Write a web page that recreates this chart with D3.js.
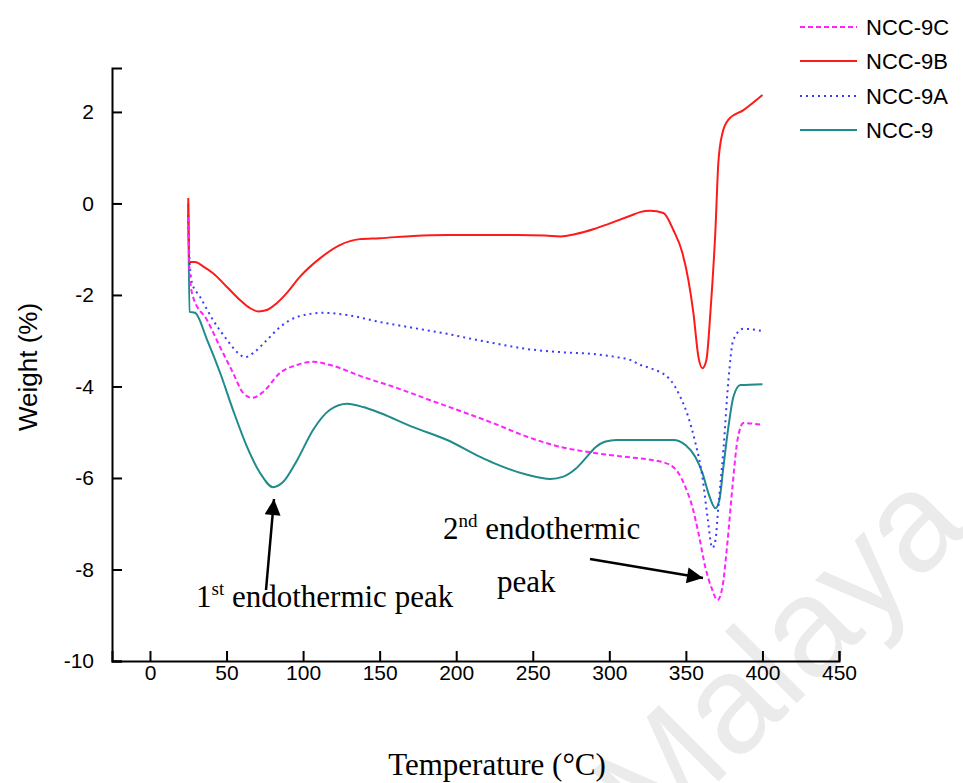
<!DOCTYPE html>
<html lang="en">
<head>
<meta charset="UTF-8">
<title>DSC curves</title>
<script src="https://d3js.org/d3.v7.min.js"></script>
<style>
    * { margin: 0; padding: 0; }
    body { background: #fff; }
    svg { display: block; }
    .tick text { font-family: "Liberation Sans", Arial, sans-serif; font-size: 21px; fill: #000; }
    .serif { font-family: "Liberation Serif", "Times New Roman", serif; fill: #000; }
</style>
</head>
<body>
<script>
    // [temperature °C, weight %]
    var ncc9C = [[25, -0.3], [25.8, -1.5], [28.1, -2.04], [37.3, -2.55], [45.8, -3.14], [54.2, -3.70], [60.8, -4.14],
        [66.7, -4.25], [73.9, -4.12], [85, -3.70], [96.1, -3.53], [106.5, -3.46], [117.6, -3.53], [139, -3.79],
        [161, -4.03], [183, -4.30], [204.6, -4.56], [224, -4.80], [246.4, -5.10], [268, -5.32], [289.5, -5.45],
        [313.7, -5.55], [326.8, -5.60], [339.9, -5.72], [345.1, -5.89], [349.7, -6.20], [354.2, -6.63], [358.2, -7.20],
        [362.7, -7.95], [367.3, -8.45], [370.6, -8.67], [373.9, -8.38], [377.1, -7.42], [380.4, -6.20], [383.7, -5.17],
        [387.6, -4.80], [400, -4.84]];
    var ncc9B = [[25, 0.12], [25.6, -1.28], [29.4, -1.28], [34.9, -1.38], [41.4, -1.53], [50.1, -1.82], [58.8, -2.11],
        [65.4, -2.29], [70.8, -2.36], [76.3, -2.33], [82.8, -2.18], [89.3, -1.96], [98, -1.60], [111, -1.20],
        [124, -0.91], [137, -0.78], [150, -0.76], [172, -0.71], [194, -0.69], [216, -0.69], [240, -0.69],
        [258, -0.70], [268, -0.72], [278, -0.67], [290, -0.56], [300, -0.44], [313.7, -0.27], [320, -0.19],
        [326.8, -0.16], [335.3, -0.21], [341.8, -0.58], [347.7, -1.08], [351.6, -1.67], [354.9, -2.39], [358.2, -3.36],
        [360.8, -3.60], [363.4, -3.42], [366, -2.39], [369.3, -0.58], [371.2, 0.89], [373.9, 1.54], [377.8, 1.83],
        [387.6, 2.04], [400, 2.37]];
    var ncc9A = [[25, -0.25], [25.8, -1.2], [27.5, -1.74], [32.7, -2.04], [41.2, -2.55], [50.3, -2.98], [56.9, -3.25],
        [62.1, -3.36], [67.3, -3.27], [76.5, -2.98], [85, -2.70], [96.1, -2.48], [113, -2.39], [129, -2.44],
        [150, -2.59], [172, -2.72], [194, -2.85], [216, -3.00], [224, -3.05], [246, -3.18], [268, -3.25],
        [289.5, -3.29], [305, -3.36], [313.7, -3.42], [320.3, -3.53], [326.8, -3.60], [339.9, -3.86], [346.4, -4.23],
        [351.6, -4.67], [356.2, -5.23], [360.8, -5.98], [364.1, -6.85], [367.3, -7.53], [369.3, -7.36], [371.2, -6.63],
        [374.5, -5.39], [377.8, -3.86], [381, -2.98], [387.6, -2.74], [400, -2.79]];
    var ncc9 = [[25, 0.0], [25.8, -2.37], [29.4, -2.39], [37.3, -2.98], [45.8, -3.70], [54.2, -4.51], [63.4, -5.32],
        [71.9, -5.89], [80.4, -6.20], [86.9, -6.09], [96.1, -5.61], [106.5, -4.95], [117.6, -4.51], [128.8, -4.38],
        [139.2, -4.45], [150.3, -4.58], [171.9, -4.89], [194.1, -5.17], [215.7, -5.54], [224.2, -5.67], [246.4, -5.93],
        [261.4, -6.02], [270, -5.97], [278, -5.80], [285, -5.55], [291, -5.33], [297, -5.21], [305, -5.17],
        [326.8, -5.17], [341.8, -5.17], [349.7, -5.28], [356.2, -5.54], [360.8, -5.89], [364.7, -6.33], [369.3, -6.66],
        [371.9, -6.48], [374.5, -5.76], [377.8, -4.88], [381, -4.23], [385.6, -3.97], [400, -3.95]];

    var seriesNames = ["NCC-9C", "NCC-9B", "NCC-9A", "NCC-9"];
    var xTicks = [0, 50, 100, 150, 200, 250, 300, 350, 400, 450];
    var yTicks = [-10, -8, -6, -4, -2, 0, 2];

    var series = [
        {name: seriesNames[0], data: ncc9C, color: "#ff22ff", dash: "5,3", width: 2},
        {name: seriesNames[1], data: ncc9B, color: "#ff1a1a", dash: null, width: 2},
        {name: seriesNames[2], data: ncc9A, color: "#3b3bff", dash: "2,4", width: 2},
        {name: seriesNames[3], data: ncc9, color: "#218a8a", dash: null, width: 2}
    ];

    var W = 963, H = 783;
    var svg = d3.select("body").append("svg").attr("width", W).attr("height", H);

    // watermark
    svg.append("text")
        .attr("transform", "translate(812,688) rotate(-45)")
        .attr("text-anchor", "middle")
        .style("font-family", "'Liberation Sans', Arial, sans-serif")
        .style("font-size", "140px")
        .style("fill", "#ebebeb")
        .text("Malaya");

    var x = d3.scaleLinear().domain([-24.8, 450]).range([112, 839]);
    var y = d3.scaleLinear().domain([-10, 2.96]).range([661, 68]);
    var fmt = function(d) { return String(d) };

    var xAxis = svg.append("g")
        .attr("transform", "translate(0," + y(-10) + ")")
        .call(d3.axisBottom(x).tickValues(xTicks).tickSize(-10).tickPadding(15).tickFormat(fmt));
    var yAxis = svg.append("g")
        .attr("transform", "translate(" + x(-24.8) + ",0)")
        .call(d3.axisLeft(y).tickValues(yTicks).tickSize(-10).tickPadding(16).tickFormat(fmt));
    [xAxis, yAxis].forEach(function(g) {
        g.select(".domain").attr("stroke", "#000").attr("stroke-width", 2);
        g.selectAll(".tick line").attr("stroke", "#000").attr("stroke-width", 2);
    });
    xAxis.selectAll(".tick text").attr("dy", "0.2em");
    yAxis.selectAll(".tick text").attr("dx", "-2");

    var line = d3.line()
        .x(function(d) { return x(d[0]) })
        .y(function(d) { return y(d[1]) })
        .curve(d3.curveMonotoneX);

    svg.selectAll(".curve")
        .data(series.slice().reverse())
        .enter()
        .append("path")
        .attr("class", "curve")
        .attr("d", function(d) { return line(d.data) })
        .attr("fill", "none")
        .attr("stroke", function(d) { return d.color })
        .attr("stroke-width", function(d) { return d.width })
        .attr("stroke-dasharray", function(d) { return d.dash });

    // legend
    var legend = svg.append("g");
    var legendY = [27, 61, 96, 130];
    series.forEach(function(s, i) {
        legend.append("line")
            .attr("x1", 800).attr("x2", 857)
            .attr("y1", legendY[i]).attr("y2", legendY[i])
            .attr("stroke", s.color).attr("stroke-width", s.width)
            .attr("stroke-dasharray", s.dash);
        legend.append("text")
            .attr("x", 866).attr("y", legendY[i])
            .attr("dy", "0.36em")
            .style("font-family", "'Liberation Sans', Arial, sans-serif")
            .style("font-size", "22px")
            .text(s.name);
    });

    // axis titles
    svg.append("text")
        .attr("transform", "translate(37,367) rotate(-90)")
        .attr("text-anchor", "middle")
        .style("font-family", "'Liberation Sans', Arial, sans-serif")
        .style("font-size", "26px")
        .text("Weight (%)");
    svg.append("text")
        .attr("class", "serif")
        .attr("x", 497).attr("y", 775)
        .attr("text-anchor", "middle")
        .style("font-size", "31px")
        .text("Temperature (°C)");

    // annotations
    var defs = svg.append("defs");
    defs.append("marker")
        .attr("id", "head")
        .attr("viewBox", "0 0 10 10")
        .attr("refX", 10).attr("refY", 5)
        .attr("markerWidth", 22).attr("markerHeight", 16)
        .attr("markerUnits", "userSpaceOnUse")
        .attr("orient", "auto")
        .append("path")
        .attr("d", "M0,0L10,5L0,10z")
        .attr("fill", "#000");

    svg.append("line")
        .attr("x1", 266).attr("y1", 590).attr("x2", 274).attr("y2", 499)
        .attr("stroke", "#000").attr("stroke-width", 2.5)
        .attr("marker-end", "url(#head)");
    svg.append("line")
        .attr("x1", 590).attr("y1", 559).attr("x2", 703).attr("y2", 578)
        .attr("stroke", "#000").attr("stroke-width", 2.5)
        .attr("marker-end", "url(#head)");

    var t1 = svg.append("text").attr("class", "serif")
        .attr("x", 196).attr("y", 607).style("font-size", "31px");
    t1.append("tspan").text("1");
    t1.append("tspan").attr("dy", "-12").style("font-size", "19px").text("st");
    t1.append("tspan").attr("dy", "12").text(" endothermic peak");

    var t2 = svg.append("text").attr("class", "serif")
        .attr("x", 443).attr("y", 539).style("font-size", "31px");
    t2.append("tspan").text("2");
    t2.append("tspan").attr("dy", "-12").style("font-size", "19px").text("nd");
    t2.append("tspan").attr("dy", "12").text(" endothermic");

    svg.append("text").attr("class", "serif")
        .attr("x", 497).attr("y", 592).style("font-size", "31px")
        .text("peak");
</script>
</body>
</html>
